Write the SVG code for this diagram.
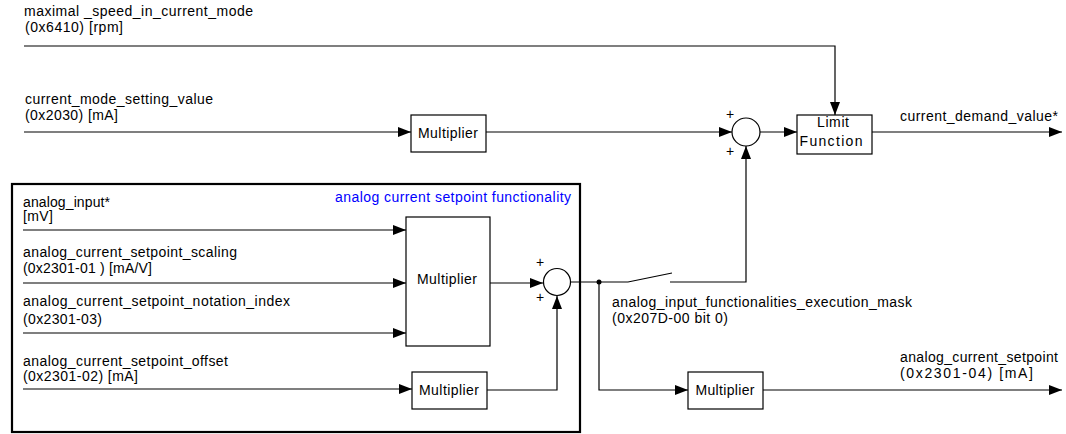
<svg xmlns="http://www.w3.org/2000/svg" width="1066" height="434" viewBox="0 0 1066 434">
<style>
text{font-family:"Liberation Sans",Arial,sans-serif;font-size:14px;fill:#000}
.blue{fill:#0000ff}
.box{fill:#fff;stroke:#000;stroke-width:1.2}
.sum{fill:#fff;stroke:#000;stroke-width:1.2}
.frame{fill:none;stroke:#000;stroke-width:2.2}
.ln{fill:none;stroke:#000;stroke-width:1.2}
.arr{marker-end:url(#ah)}
.c{text-anchor:middle}
</style>
<defs>
<marker id="ah" viewBox="0 -6 14 12" refX="13" refY="0" markerWidth="14" markerHeight="12" markerUnits="userSpaceOnUse" orient="auto">
<path d="M0,-5 L13,0 L0,5 Z" fill="#000"/>
</marker>
</defs>
<rect width="1066" height="434" fill="#fff"/>
<g id="frame-analog">
<rect class="frame" x="12" y="184" width="568" height="248"/>
<text class="blue" x="335" y="202" textLength="236">analog current setpoint functionality</text>
</g>
<g id="labels-inputs">
<text x="24" y="16" textLength="229">maximal _speed_in_current_mode</text>
<text x="25" y="32" textLength="98">(0x6410) [rpm]</text>
<text x="25" y="104" textLength="188">current_mode_setting_value</text>
<text x="25" y="120" textLength="93">(0x2030) [mA]</text>
<text x="23" y="207" textLength="87">analog_input*</text>
<text x="23" y="221" textLength="30">[mV]</text>
<text x="23" y="257" textLength="214">analog_current_setpoint_scaling</text>
<text x="23" y="273" textLength="129">(0x2301-01 ) [mA/V]</text>
<text x="23" y="306" textLength="267">analog_current_setpoint_notation_index</text>
<text x="23" y="324" textLength="79">(0x2301-03)</text>
<text x="23" y="366" textLength="205">analog_current_setpoint_offset</text>
<text x="23" y="381" textLength="115">(0x2301-02) [mA]</text>
</g>
<g id="labels-outputs">
<text x="900" y="121" textLength="158">current_demand_value*</text>
<text x="612" y="307" textLength="300">analog_input_functionalities_execution_mask</text>
<text x="612" y="323" textLength="116">(0x207D-00 bit 0)</text>
<text x="900" y="362" textLength="158">analog_current_setpoint</text>
<text x="900" y="378" textLength="133">(0x2301-04) [mA]</text>
</g>
<g id="connectors">
<path class="ln arr" d="M24,46 H835 V115"/>
<path class="ln arr" d="M24,132 H411"/>
<path class="ln arr" d="M486,132 H732"/>
<path class="ln arr" d="M760,132 H797"/>
<path class="ln arr" d="M872,132 H1062"/>
<path class="ln arr" d="M670,282 H746 V146"/>
<path class="ln arr" d="M23,230 H406"/>
<path class="ln arr" d="M23,283 H406"/>
<path class="ln arr" d="M23,333 H406"/>
<path class="ln arr" d="M23,389 H412"/>
<path class="ln arr" d="M490,283 H543"/>
<path class="ln arr" d="M487,390 H557 V296"/>
<path class="ln" d="M570,282 H628 L672,273"/>
<path class="ln arr" d="M599,282 V390 H688"/>
<path class="ln arr" d="M763,390 H1062"/>
<circle cx="599" cy="282" r="2.5" fill="#000"/>
</g>
<g id="mult-top">
<rect class="box" x="411" y="115" width="75" height="37"/>
<text class="c" x="448" y="138" textLength="60">Multiplier</text>
</g>
<g id="sum-top">
<circle class="sum" cx="746" cy="132" r="14"/>
<text class="c" x="730" y="119">+</text>
<text class="c" x="730" y="156">+</text>
</g>
<g id="limit">
<rect class="box" x="797" y="115" width="75" height="39"/>
<text class="c" x="833" y="127" textLength="32">Limit</text>
<text class="c" x="831" y="146" textLength="63">Function</text>
</g>
<g id="mult-big">
<rect class="box" x="406" y="217" width="84" height="129"/>
<text class="c" x="447" y="284" textLength="60">Multiplier</text>
</g>
<g id="sum-bottom">
<circle class="sum" cx="557" cy="282" r="13.5"/>
<text class="c" x="540" y="267">+</text>
<text class="c" x="540" y="302">+</text>
</g>
<g id="mult-offset">
<rect class="box" x="412" y="372" width="75" height="37"/>
<text class="c" x="449" y="395" textLength="60">Multiplier</text>
</g>
<g id="mult-out">
<rect class="box" x="688" y="372" width="75" height="37"/>
<text class="c" x="725" y="395" textLength="59">Multiplier</text>
</g>
</svg>
